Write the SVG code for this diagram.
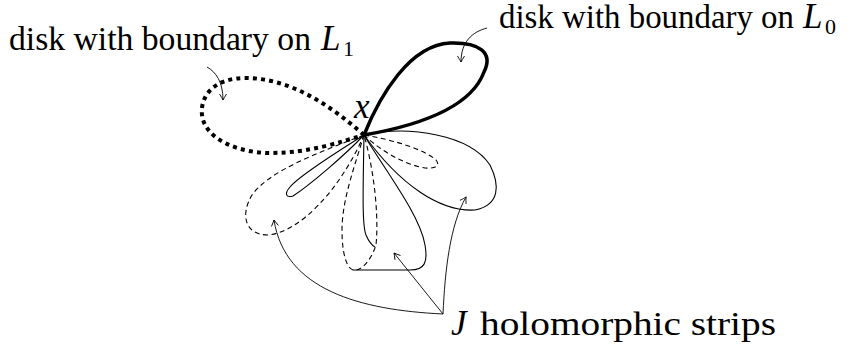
<svg xmlns="http://www.w3.org/2000/svg" width="855" height="347" viewBox="0 0 855 347">
<style>
  .lbl { font-family: 'Liberation Serif', 'DejaVu Serif', 'Times New Roman', Times, serif; font-size: 33px; fill: #000; }
  .it { font-style: italic; font-size: 35px; }
  .sub { font-size: 22px; }
  .thin { fill: none; stroke: #000; stroke-width: 1.1; stroke-linejoin: round; }
  .dash { stroke-dasharray: 5 3.5; }
  .thick { fill: none; stroke: #000; stroke-width: 3.5; stroke-linejoin: round; }
  .dots { fill: none; stroke: #000; stroke-width: 4; stroke-dasharray: 4 4.2; }
  .arr { fill: none; stroke: #000; stroke-width: 0.9; marker-end: url(#head); }
</style>
<defs>
  <marker id="head" viewBox="-8 -5 10 10" refX="0" refY="0" markerWidth="10" markerHeight="10" markerUnits="userSpaceOnUse" orient="auto">
    <path d="M-6,-3.5 Q-2,-1 0,0 Q-2,1 -6,3.5" fill="none" stroke="#000" stroke-width="0.9"/>
  </marker>
</defs>

<g id="disk-L0">
  <path class="thick" d="M364,135 C380,95 410,45 450,43 C478,42 494,52 484,72 C470,110 410,127 364,135"/>
</g>
<g id="disk-L1">
  <path class="dots" d="M364,135 C330,105 290,78 245,78 C215,78 200,95 202,115 C205,140 240,153 270,153 C310,153 340,142 364,135"/>
</g>
<g id="strip-right-big">
  <path class="thin" d="M364,135 C410,125 470,135 490,165 C500,185 500,205 475,210 C440,212 400,185 364,135"/>
</g>
<g id="strip-right-small">
  <path class="thin dash" d="M364,135 C395,140 425,150 436,160 C442,167 432,170 420,167 C400,162 380,150 364,135"/>
</g>
<g id="strip-left-thin">
  <path class="thin" d="M364,135 C340,150 300,175 290,187 C284,194 286,198 293,196 C310,185 345,155 364,135"/>
</g>
<g id="strip-left-big">
  <path class="thin dash" d="M364,135 C320,152 270,170 252,195 C240,215 245,235 268,235 C300,232 340,190 364,135"/>
</g>
<g id="strip-middle">
  <path class="thin dash" d="M364,135 C355,165 342,200 342,230 C342,255 347,268 353,270 C362,272 372,258 376,245 C379,215 374,170 364,135"/>
  <path class="thin" d="M364,135 C363,190 362,225 366,235 C369,242 373,246 375,247"/>
</g>
<g id="strip-lower-right">
  <path class="thin" d="M364,135 C385,170 420,215 425,245 C428,262 425,270 410,270 L353,270"/>
</g>

<g id="connectors">
  <path class="arr" d="M487,28 C472,32 461,42 461,62"/>
  <path class="arr" d="M207,67 C216,72 223,82 223,100"/>
  <path class="arr" d="M443,314 C360,310 285,290 274,220"/>
  <path class="arr" d="M443,314 L394,253"/>
  <path class="arr" d="M443,314 C445,270 450,225 466,197"/>
</g>

<g id="label-L1">
  <text class="lbl" x="9" y="50" textLength="302" lengthAdjust="spacingAndGlyphs">disk with boundary on</text>
  <text class="lbl it" x="321" y="50">L</text>
  <text class="lbl sub" x="343" y="56">1</text>
</g>
<g id="label-L0">
  <text class="lbl" x="499" y="28" textLength="295" lengthAdjust="spacingAndGlyphs">disk with boundary on</text>
  <text class="lbl it" x="803" y="28">L</text>
  <text class="lbl sub" x="825" y="34">0</text>
</g>
<g id="label-x">
  <text class="lbl it" x="354" y="118" font-size="32">x</text>
</g>
<g id="label-J">
  <text class="lbl it" x="451" y="335">J</text>
  <text class="lbl" x="480" y="335" textLength="296" lengthAdjust="spacingAndGlyphs">holomorphic strips</text>
</g>
</svg>
